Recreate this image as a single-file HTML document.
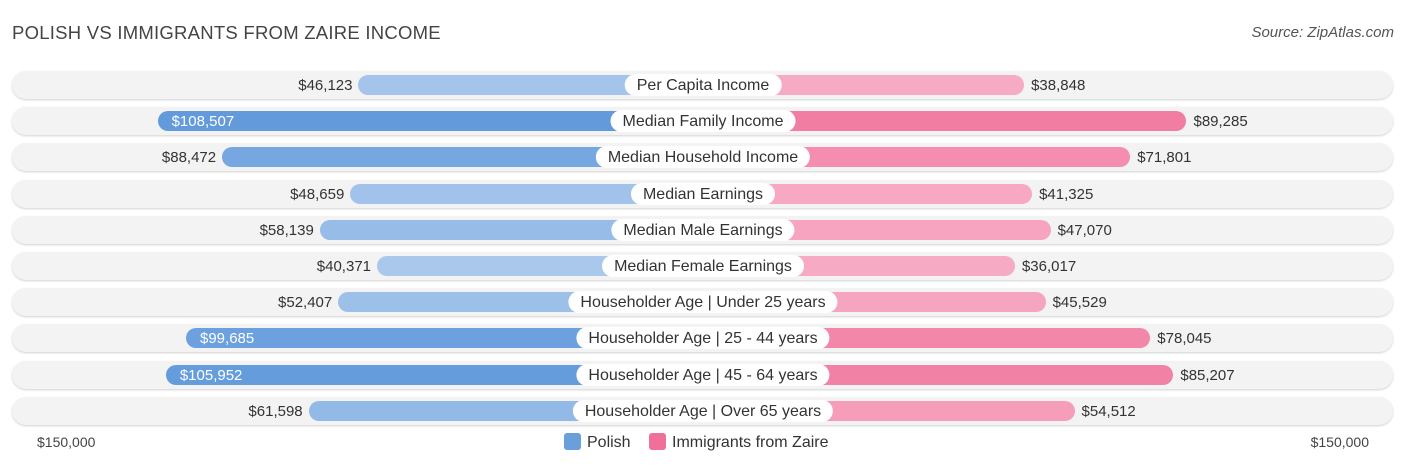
<!DOCTYPE html>
<html><head><meta charset="utf-8"><style>
body{margin:0;width:1406px;height:467px;background:#fff;font-family:"Liberation Sans",sans-serif;overflow:hidden;position:relative}
.t{position:absolute;white-space:nowrap}
</style></head><body>
<div class="t" style="left:12px;top:22px;font-size:18.5px;letter-spacing:0.25px;color:#444">POLISH VS IMMIGRANTS FROM ZAIRE INCOME</div>
<div class="t" style="right:12px;top:24px;font-size:15px;color:#555;font-style:italic">Source: ZipAtlas.com</div>
<div id="rows"></div>
<div class="t" style="left:37px;top:434px;font-size:14px;color:#444">$150,000</div>
<div class="t" style="right:37px;top:434px;font-size:14px;color:#444">$150,000</div>
<div class="t" style="left:564px;top:433px;font-size:16px;color:#333">
<span><span style="display:inline-block;width:17px;height:17px;background:#6a9fdc;border-radius:3px;vertical-align:-3px;margin-right:6px"></span>Polish</span>
<span style="margin-left:14px"><span style="display:inline-block;width:17px;height:17px;background:#f07099;border-radius:3px;vertical-align:-3px;margin-right:6px"></span>Immigrants from Zaire</span>
</div>
<script>
const categories=["Per Capita Income","Median Family Income","Median Household Income","Median Earnings","Median Male Earnings","Median Female Earnings","Householder Age | Under 25 years","Householder Age | 25 - 44 years","Householder Age | 45 - 64 years","Householder Age | Over 65 years"];
const polish=[46123,108507,88472,48659,58139,40371,52407,99685,105952,61598];
const zaire=[38848,89285,71801,41325,47070,36017,45529,78045,85207,54512];
const C=703,base=196,k=0.00322;
function w(v){return base+v*k;}
function mix(a,b,v){const t=Math.max(0,Math.min(1,(v-40000)/70000));return 'rgb('+a.map((x,i)=>Math.round(x+(b[i]-x)*t)).join(',')+')';}
function fmt(v){return '$'+v.toLocaleString('en-US');}
const R=document.getElementById('rows');
categories.forEach((c,i)=>{
 const y=85+i*36.2;
 const bg=document.createElement('div');
 
 
 bg.style.cssText=`position:absolute;left:12px;width:1381px;top:${y-14}px;height:28px;border-radius:14px;background:#f3f3f3;box-shadow:0 1px 2px rgba(0,0,0,.18)`;
 R.appendChild(bg);
 const pw=w(polish[i]),zw=w(zaire[i]);
 const pb=document.createElement('div');
 
 
 pb.style.cssText=`position:absolute;left:${C-pw}px;width:${pw}px;top:${y-10}px;height:20px;border-radius:10px 0 0 10px;background:${mix([170,200,236],[97,153,219],polish[i])}`;
 R.appendChild(pb);
 const zb=document.createElement('div');
 
 
 zb.style.cssText=`position:absolute;left:${C}px;width:${zw}px;top:${y-10}px;height:20px;border-radius:0 10px 10px 0;background:${mix([247,170,196],[240,106,149],zaire[i])}`;
 R.appendChild(zb);
 const lab=document.createElement('div');
 
 
 lab.className='t';
 lab.textContent=c;
 lab.style.cssText=`position:absolute;white-space:nowrap;left:${C}px;top:${y-11}px;transform:translateX(-50%);height:22px;line-height:24px;padding:0 12px;border-radius:11px;background:#fff;font-size:16px;color:#333`;
 R.appendChild(lab);
 const pv=document.createElement('div');
 
 
 pv.className='t';
 pv.textContent=fmt(polish[i]);
 const inside=polish[i]>95000;
 if(inside) pv.style.cssText=`left:${C-pw+14}px;top:${y-8}px;font-size:15px;color:#fff`;
 else pv.style.cssText=`right:${1406-(C-pw)+6}px;top:${y-8}px;font-size:15px;color:#333`;
 R.appendChild(pv);
 const zv=document.createElement('div');
 
 
 zv.className='t';
 zv.textContent=fmt(zaire[i]);
 zv.style.cssText=`left:${C+zw+7}px;top:${y-8}px;font-size:15px;color:#333`;
 R.appendChild(zv);
});
</script>
</body></html>
